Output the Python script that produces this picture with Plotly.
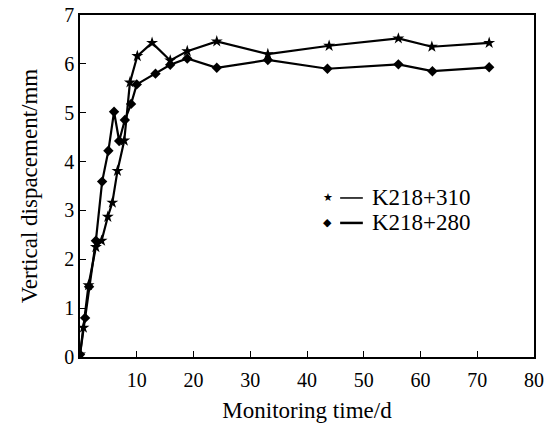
import plotly.graph_objects as go

# K218+310 (stars)
time_310 = [0, 0.6, 1.5, 2.8, 3.8, 4.9, 5.7, 6.6, 7.8, 8.8, 10.1, 12.7, 15.9, 18.9, 24.1, 33.1, 43.9, 56.1, 62.0, 72.1]
disp_310 = [0.05, 0.6, 1.47, 2.25, 2.38, 2.87, 3.16, 3.81, 4.43, 5.62, 6.16, 6.43, 6.07, 6.26, 6.46, 6.2, 6.37, 6.52, 6.35, 6.43]

# K218+280 (diamonds)
time_280 = [0, 0.9, 1.6, 2.8, 3.9, 5.0, 6.0, 6.9, 7.9, 9.0, 10.0, 13.3, 15.9, 18.9, 24.1, 33.1, 43.6, 56.1, 62.1, 72.1]
disp_280 = [0.05, 0.8, 1.44, 2.38, 3.59, 4.22, 5.02, 4.42, 4.85, 5.18, 5.58, 5.8, 5.98, 6.11, 5.92, 6.08, 5.9, 5.99, 5.85, 5.93]

names = ["K218+310", "K218+280"]
x_ticks = [10, 20, 30, 40, 50, 60, 70, 80]
y_ticks = [0, 1, 2, 3, 4, 5, 6, 7]

FONT = "Liberation Serif, Times New Roman, serif"

fig = go.Figure()
fig.add_trace(go.Scatter(x=time_310, y=disp_310, mode="lines+markers", name=names[0],
                         line=dict(color="black", width=2.2),
                         marker=dict(symbol="star", size=9, color="black"), showlegend=False))
fig.add_trace(go.Scatter(x=time_280, y=disp_280, mode="lines+markers", name=names[1],
                         line=dict(color="black", width=2.2),
                         marker=dict(symbol="diamond", size=8, color="black"), showlegend=False))

# manual legend (marker — text)
rows = [(0.465, "★", 1.5, names[0]), (0.392, "◆", 2.5, names[1])]
for yy, sym, lw, txt in rows:
    fig.add_annotation(x=0.546, y=yy, xref="paper", yref="paper", text=sym, showarrow=False,
                       font=dict(family="DejaVu Sans", size=11, color="black"))
    fig.add_shape(type="line", xref="paper", yref="paper", x0=0.573, x1=0.623, y0=yy, y1=yy,
                  line=dict(color="black", width=lw))
    fig.add_annotation(x=0.638, y=yy, xref="paper", yref="paper", text=txt, showarrow=False,
                       xanchor="left", font=dict(family=FONT, size=23, color="black"))

fig.update_layout(
    width=555, height=423,
    margin=dict(l=80, r=21, t=15, b=66),
    plot_bgcolor="white", paper_bgcolor="white",
    font=dict(family=FONT, size=20, color="black"),
)
fig.update_xaxes(range=[0, 80], tickvals=x_ticks, ticks="inside", ticklen=6, tickcolor="black",
                 showline=True, linecolor="black", linewidth=1.5, mirror=True, showgrid=False,
                 zeroline=False, title=dict(text="Monitoring time/d", font=dict(size=23), standoff=14),
                 tickfont=dict(size=20), ticklabelstandoff=4, automargin=False)
fig.update_yaxes(range=[0, 7], tickvals=y_ticks, ticks="inside", ticklen=6, tickcolor="black",
                 showline=True, linecolor="black", linewidth=1.5, mirror=True, showgrid=False,
                 zeroline=False, title=dict(text="Vertical dispacement/mm", font=dict(size=23), standoff=20),
                 tickfont=dict(size=20), automargin=False)

fig.write_html("out.html", config={"displayModeBar": False},
               post_script="document.body.style.margin='0';document.body.style.overflow='hidden';")
